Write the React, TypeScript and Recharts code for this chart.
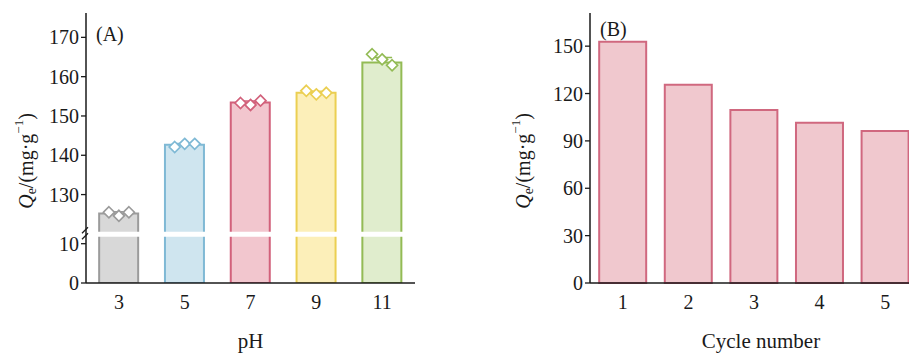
import React from "react";
import {
  ComposedChart,
  BarChart,
  Bar,
  Line,
  Cell,
  XAxis,
  YAxis,
  ReferenceLine,
} from "recharts";

// Panel A: adsorption capacity vs pH (broken y axis)
const phLabels = ["3", "5", "7", "9", "11"];
const qeMean = [125.2, 142.7, 153.4, 155.9, 163.6];
const qeErr = [0.4, 0.3, 0.4, 0.4, 1.3];
const rep1 = [125.5, 142.1, 153.3, 156.4, 165.7];
const rep2 = [124.6, 142.9, 152.8, 155.5, 164.4];
const rep3 = [125.5, 142.9, 153.9, 155.9, 162.9];
const yTicksA = [0, 10, 130, 140, 150, 160, 170];

const phFill = ["#d8d8d8", "#cfe5ef", "#f2c6ce", "#fcefb9", "#e0edcd"];
const phStroke = ["#9b9b9b", "#7fb9d5", "#d2617b", "#ebcf52", "#93bb55"];

// Panel B: reuse cycles
const cycleLabels = ["1", "2", "3", "4", "5"];
const cycleQe = [152.8, 125.6, 109.5, 101.5, 96.2];
const yTicksB = [0, 30, 60, 90, 120, 150];

// axis break: values above BREAK_LOW are shifted down by BREAK_GAP
const BREAK_LOW = 12.6;
const BREAK_GAP = 107.5;
const toAxis = (v: number) => (v > BREAK_LOW ? v - BREAK_GAP : v);
const fromAxis = (d: number) => (d > BREAK_LOW ? d + BREAK_GAP : d);

const phData = phLabels.map((ph, i) => ({
  ph,
  mean: toAxis(qeMean[i]),
  hi: toAxis(qeMean[i] + qeErr[i]),
  r1: toAxis(rep1[i]),
  r2: toAxis(rep2[i]),
  r3: toAxis(rep3[i]),
}));

const cycleData = cycleLabels.map((c, i) => ({ cycle: c, qe: cycleQe[i] }));

const INK = "#1a1a1a";
const FONT = '"Liberation Serif", "DejaVu Serif", serif';

const diamond = (dx: number) => (props: any) => {
  const { cx, cy, index } = props;
  const key = `dm-${dx}-${index}`;
  if (cx == null || cy == null) return <g key={key} />;
  const s = 5.5;
  const x = cx + dx;
  return (
    <path
      key={key}
      d={`M${x},${cy - s} L${x + s},${cy} L${x},${cy + s} L${x - s},${cy} Z`}
      fill="#fff"
      stroke={phStroke[index]}
      strokeWidth={1.7}
    />
  );
};

// error cap, coloured like its bar
const errCap = (props: any) => {
  const { cx, cy, index } = props;
  const key = `cap-${index}`;
  if (cx == null || cy == null) return <g key={key} />;
  return (
    <line
      key={key}
      x1={cx - 10}
      x2={cx + 10}
      y1={cy}
      y2={cy}
      stroke={phStroke[index]}
      strokeWidth={1.5}
    />
  );
};

const QeLabel = (props: any) => {
  const vb = props.viewBox || { x: 0 };
  const cx = vb.x + props.offsetX;
  const cy = 161;
  return (
    <text
      x={cx}
      y={cy}
      transform={`rotate(-90 ${cx} ${cy})`}
      textAnchor="middle"
      dominantBaseline="central"
      fontSize={20}
      fill={INK}
      fontFamily={FONT}
    >
      <tspan fontStyle="italic">Q</tspan>
      <tspan fontSize={14} dy={5}>e</tspan>
      <tspan dy={-5}>/(mg·g</tspan>
      <tspan fontSize={13} dy={-8}>−1</tspan>
      <tspan dy={8}>)</tspan>
    </text>
  );
};

const AxisTitle = (props: any) => {
  const vb = props.viewBox || { x: 0, y: 0, width: 0 };
  return (
    <text
      x={vb.x + vb.width / 2 + (props.dx || 0)}
      y={vb.y + 64.5}
      textAnchor="middle"
      fontSize={21}
      fill={INK}
      fontFamily={FONT}
    >
      {props.text}
    </text>
  );
};

const BreakMark = (props: any) => {
  const vb = props.viewBox || { x: 0, y: 0 };
  const x = vb.x;
  const y = vb.y;
  return (
    <g stroke={INK} strokeWidth={1.3}>
      <line x1={x - 4} y1={y - 1} x2={x + 2} y2={y - 7} />
      <line x1={x - 4} y1={y + 5} x2={x + 2} y2={y - 1} />
    </g>
  );
};

const tickStyle = { fontSize: 20, fill: INK, fontFamily: FONT };

const tagStyle: React.CSSProperties = {
  position: "absolute",
  fontSize: 20,
  lineHeight: "20px",
  color: INK,
  fontFamily: FONT,
  whiteSpace: "nowrap",
};

export default function App() {
  return (
    <div
      style={{
        position: "absolute",
        left: 0,
        top: 0,
        width: 909,
        height: 353,
        overflow: "hidden",
        background: "#fff",
        fontFamily: FONT,
      }}
    >
      <div style={{ position: "absolute", left: 0, top: 0 }}>
        <ComposedChart
          width={430}
          height={353}
          data={phData}
          margin={{ top: 13, right: 15, left: 0, bottom: 0 }}
          barCategoryGap="20%"
        >
          <XAxis
            dataKey="ph"
            height={70}
            tickLine={false}
            tickSize={0}
            tickMargin={12}
            axisLine={{ stroke: INK, strokeWidth: 1.5 }}
            tick={tickStyle}
            label={<AxisTitle text="pH" />}
          />
          <XAxis
            xAxisId="top"
            orientation="top"
            height={0}
            tick={false}
            tickLine={false}
            axisLine={{ stroke: INK, strokeWidth: 1.5 }}
          />
          <YAxis
            width={86}
            domain={[0, 68.7]}
            ticks={yTicksA.map(toAxis)}
            tickFormatter={(d: number) => String(Math.round(fromAxis(d)))}
            tickSize={5}
            tickMargin={2}
            tickLine={{ stroke: INK, strokeWidth: 1.3 }}
            axisLine={{ stroke: INK, strokeWidth: 1.5 }}
            tick={tickStyle}
            allowDataOverflow
            label={<QeLabel offsetX={26} />}
          />
          <YAxis
            yAxisId="right"
            orientation="right"
            width={0}
            tick={false}
            tickLine={false}
            axisLine={{ stroke: INK, strokeWidth: 1.5 }}
          />
          <Bar dataKey="mean" strokeWidth={2} isAnimationActive={false}>
            {phData.map((_, i) => (
              <Cell key={i} fill={phFill[i]} stroke={phStroke[i]} />
            ))}
          </Bar>
          <ReferenceLine
            y={BREAK_LOW - 0.2}
            stroke="#fff"
            strokeWidth={5}
            label={<BreakMark />}
          />
          <Line dataKey="hi" stroke="none" dot={errCap} activeDot={false} isAnimationActive={false} />
          <Line dataKey="r1" stroke="none" dot={diamond(-10)} activeDot={false} isAnimationActive={false} />
          <Line dataKey="r2" stroke="none" dot={diamond(0)} activeDot={false} isAnimationActive={false} />
          <Line dataKey="r3" stroke="none" dot={diamond(10)} activeDot={false} isAnimationActive={false} />
        </ComposedChart>
        <div style={{ ...tagStyle, left: 96, top: 24 }}>(A)</div>
      </div>

      <div style={{ position: "absolute", left: 480, top: 0 }}>
        <BarChart
          width={440}
          height={353}
          data={cycleData}
          margin={{ top: 13, right: 2, left: 0, bottom: 0 }}
          barCategoryGap="14%"
        >
          <XAxis
            dataKey="cycle"
            height={70}
            tickLine={false}
            tickSize={0}
            tickMargin={12}
            axisLine={{ stroke: INK, strokeWidth: 1.5 }}
            tick={tickStyle}
            label={<AxisTitle text="Cycle number" dx={7} />}
          />
          <XAxis
            xAxisId="top"
            orientation="top"
            height={0}
            tick={false}
            tickLine={false}
            axisLine={{ stroke: INK, strokeWidth: 1.5 }}
          />
          <YAxis
            width={110}
            domain={[0, 171]}
            ticks={yTicksB}
            tickSize={5}
            tickMargin={2}
            tickLine={{ stroke: INK, strokeWidth: 1.3 }}
            axisLine={{ stroke: INK, strokeWidth: 1.5 }}
            tick={tickStyle}
            label={<QeLabel offsetX={43} />}
          />
          <Bar
            dataKey="qe"
            fill="#f0c8ce"
            stroke="#d0687f"
            strokeWidth={2}
            isAnimationActive={false}
          />
        </BarChart>
        <div style={{ ...tagStyle, left: 120, top: 19 }}>(B)</div>
      </div>
    </div>
  );
}
